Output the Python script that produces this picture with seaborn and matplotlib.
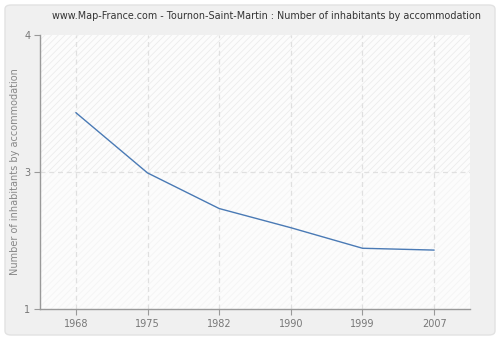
import matplotlib
matplotlib.use("Agg")
import matplotlib.pyplot as plt
import seaborn as sns
import pandas as pd
from matplotlib.patches import FancyBboxPatch

years = ["1968", "1975", "1982", "1990", "1999", "2007"]
values = [3.15, 2.49, 2.10, 1.89, 1.665, 1.645]
ytick_pos = [1, 2.5, 4]
ytick_labels = ["1", "3", "4"]
title = "www.Map-France.com - Tournon-Saint-Martin : Number of inhabitants by accommodation"
ylabel = "Number of inhabitants by accommodation"

sns.set_theme(style="white")
plt.rcParams['font.family'] = ['DejaVu Sans']
plt.rcParams['hatch.linewidth'] = 0.6

df = pd.DataFrame({"year": years, "value": values})
df["pos"] = range(len(years))

fig = plt.figure(figsize=(5, 3.4), dpi=100)
fig.patch.set_facecolor("white")
panel = FancyBboxPatch((5/500, 5/340), 490/500, 330/340,
                       boxstyle="round,pad=0,rounding_size=0.012",
                       transform=fig.transFigure, facecolor="#f0f0f0",
                       edgecolor="#e2e2e2", linewidth=1.0, zorder=-10)
fig.patches.append(panel)

ax = fig.add_axes([40/500, 1-309/340, 430/500, 274/340])
ax.set_zorder(5)
ax.set_facecolor("#fcfcfc")
ax.set_xlim(-0.5, 5.5)
ax.set_ylim(1, 4)

# hatched background bands
ax.axhspan(2.5, 4, facecolor="#fcfcfc", edgecolor="#ececec", hatch="/////", linewidth=0, zorder=0)
ax.axhspan(1, 2.5, facecolor="#fcfcfc", edgecolor="#f4f4f4", hatch="/////", linewidth=0, zorder=0)

# grid
for i in range(len(years)):
    ax.axvline(i, color="#e0e0e0", linestyle=(0, (4, 3)), linewidth=0.9, zorder=1)
ax.axhline(2.5, color="#e0e0e0", linestyle=(0, (4, 3)), linewidth=0.9, zorder=1)

sns.lineplot(data=df, x="pos", y="value", ax=ax, color="#4a7ab5", linewidth=1.0, zorder=3)

ax.set_xticks(range(len(years)))
ax.set_xticklabels(years)
ax.set_yticks(ytick_pos)
ax.set_yticklabels(ytick_labels)
ax.tick_params(axis="both", which="both", length=4, width=0.8, color="#999999",
               labelcolor="#777777", labelsize=7, direction="out", bottom=True, left=True, pad=3)
ax.set_xlabel("")
ax.set_ylabel(ylabel, color="#888888", fontsize=7, labelpad=3)

for s in ["top", "right"]:
    ax.spines[s].set_visible(False)
for s in ["left", "bottom"]:
    ax.spines[s].set_color("#999999")
    ax.spines[s].set_linewidth(1.0)

fig.text(267/500, 1-16/340, title, ha="center", va="center", fontsize=6.9, color="#333333")

fig.savefig("out.png", dpi=100)
